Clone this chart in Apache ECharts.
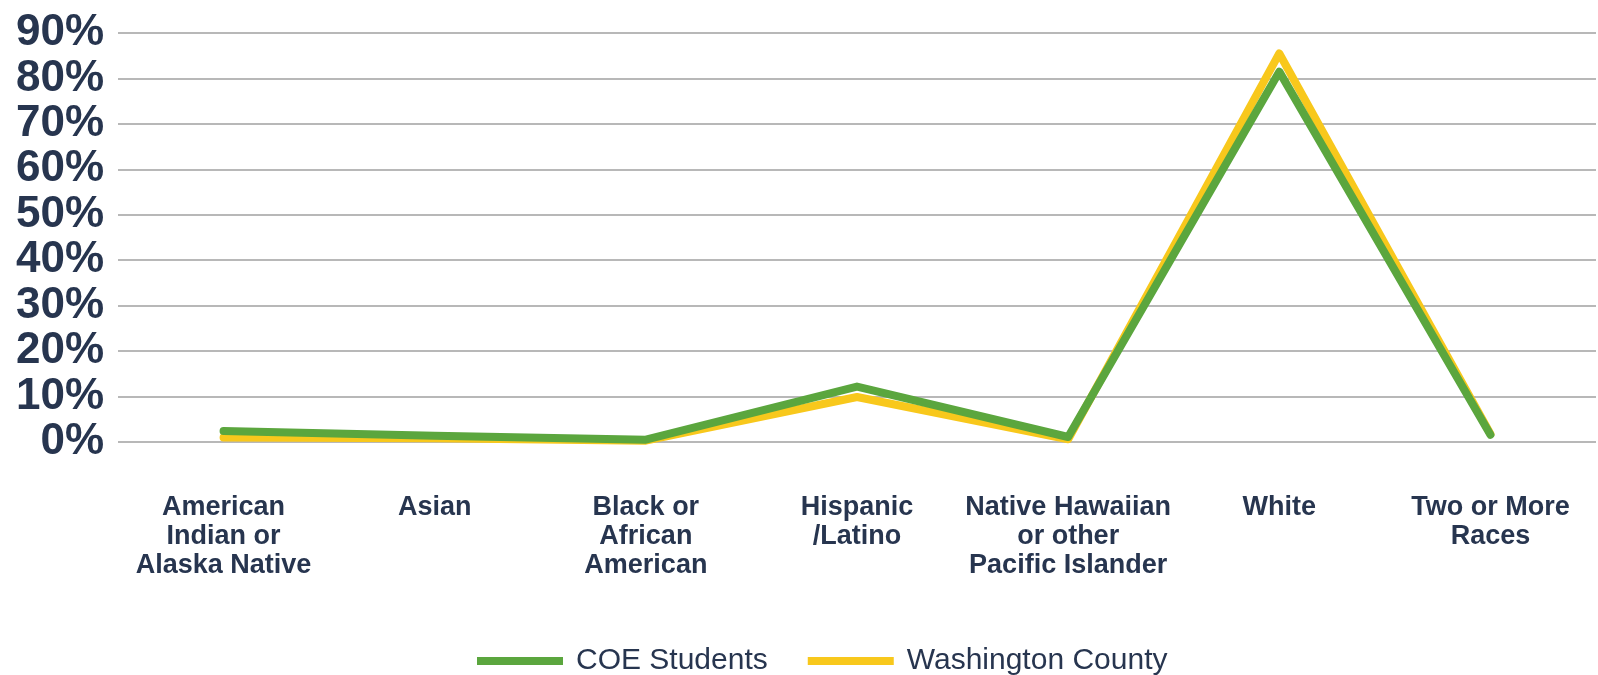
<!DOCTYPE html>
<html>
<head>
<meta charset="utf-8">
<script src="https://cdn.jsdelivr.net/npm/echarts@6/dist/echarts.min.js"></script>
<style>
html,body{margin:0;padding:0;background:#fff;}
#chart{width:1598px;height:675px;}
</style>
</head>
<body>
<div id="chart"></div>
<script>
const categories = [
  "American\nIndian or\nAlaska Native",
  "Asian",
  "Black or\nAfrican\nAmerican",
  "Hispanic\n/Latino",
  "Native Hawaiian\nor other\nPacific Islander",
  "White",
  "Two or More\nRaces"
];
const coeStudents = [2.4, 1.4, 0.5, 12.2, 1.1, 81.5, 1.6];
const washingtonCounty = [1.0, 0.8, 0.3, 9.9, 0.6, 85.5, 1.8];
const seriesNames = ["COE Students", "Washington County"];

const navy = "#27354f";
const chart = echarts.init(document.getElementById("chart"));
chart.setOption({
  animation: false,
  backgroundColor: "#ffffff",
  legend: {
    data: [seriesNames[0], seriesNames[1]],
    left: 472,
    top: 641,
    itemWidth: 86,
    itemHeight: 8,
    itemGap: 40,
    icon: "rect",
    textStyle: { color: navy, fontSize: 30, fontFamily: "Liberation Sans, Arial, sans-serif", padding: [0, 0, 0, 8] }
  },
  grid: { left: 118, right: 2, top: 33, bottom: 233, containLabel: false },
  xAxis: {
    type: "category",
    data: categories,
    boundaryGap: true,
    axisLine: { show: false },
    axisTick: { show: false },
    axisLabel: {
      margin: 51,
      color: navy,
      fontSize: 27,
      fontWeight: "bold",
      lineHeight: 29,
      fontFamily: "Liberation Sans, Arial, sans-serif",
      interval: 0,
      align: "center"
    },
    splitLine: { show: false }
  },
  yAxis: {
    type: "value",
    min: 0,
    max: 90,
    interval: 10,
    axisLine: { show: false },
    axisTick: { show: false },
    axisLabel: {
      formatter: "{value}%",
      color: navy,
      fontSize: 44,
      fontWeight: "bold",
      fontFamily: "Liberation Sans, Arial, sans-serif",
      margin: 14
    },
    splitLine: { lineStyle: { color: "#b8b8b8", width: 2 } }
  },
  series: [
    {
      name: seriesNames[1],
      type: "line",
      data: washingtonCounty,
      symbol: "none",
      z: 2,
      color: "#f8c81c",
      lineStyle: { width: 8, color: "#f8c81c", join: "round", cap: "round" }
    },
    {
      name: seriesNames[0],
      type: "line",
      data: coeStudents,
      symbol: "none",
      z: 3,
      color: "#5ba63e",
      lineStyle: { width: 8, color: "#5ba63e", join: "round", cap: "round" }
    }
  ]
});
</script>
</body>
</html>
